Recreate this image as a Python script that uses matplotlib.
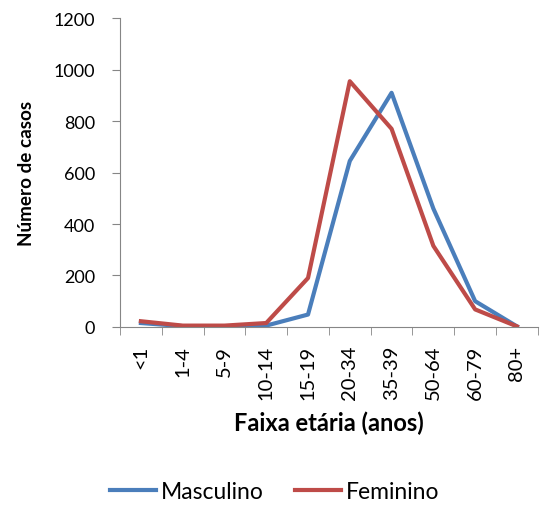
import numpy as np
import matplotlib.pyplot as plt

plt.rcParams['font.family'] = ['Lato', 'DejaVu Sans']

faixas = ['<1', '1-4', '5-9', '10-14', '15-19', '20-34', '35-39', '50-64', '60-79', '80+']
masculino = [15, 3, 2, 5, 48, 645, 910, 460, 100, 2]
feminino = [22, 5, 5, 15, 190, 955, 770, 315, 68, 2]

fig = plt.figure(figsize=(5.44, 5.06), dpi=100)
ax = fig.add_axes([0.2206, 0.352, 0.768, 0.61])

x = np.arange(len(faixas))
ax.plot(x, masculino, color='#4A7EBB', lw=3, label='Masculino')
ax.plot(x, feminino, color='#BE4B48', lw=3, label='Feminino')

ax.set_xlim(-0.5, len(faixas) - 0.5)
ax.set_ylim(0, 1200)
ax.set_yticks(range(0, 1201, 200))
ax.set_xticks(x)
ax.set_xticklabels(faixas, rotation=90, fontsize=14.5)
ax.set_xticks(np.arange(-0.5, len(faixas), 1), minor=True)
ax.tick_params(axis='x', which='major', length=0, pad=13)
ax.tick_params(axis='x', which='minor', length=6, color='#868686')
ax.tick_params(axis='y', length=6, color='#868686', labelsize=13, pad=12)

for s in ['top', 'right']:
    ax.spines[s].set_visible(False)
for s in ['left', 'bottom']:
    ax.spines[s].set_color('#868686')

ax.set_ylabel('Número de casos', fontsize=13.6, fontweight='bold', labelpad=13)
ax.set_xlabel('Faixa etária (anos)', fontsize=17, fontweight='bold', labelpad=8)

fig.legend(loc='center', bbox_to_anchor=(0.505, 0.026), ncol=2, frameon=False,
           fontsize=16.5, handlelength=2.0, handletextpad=0.2, columnspacing=1.4)

fig.savefig('out.png', dpi=100)
